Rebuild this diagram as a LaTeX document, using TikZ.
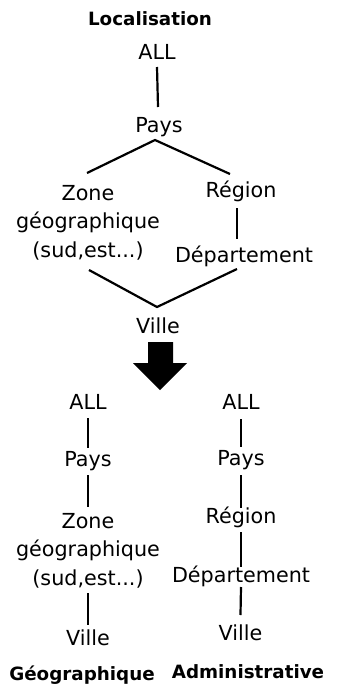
\documentclass[tikz,border=0pt]{standalone}
\usepackage{fontspec}
\setmainfont{DejaVu Sans}
\begin{document}
\begin{tikzpicture}[x=1pt,y=-1pt,
  lbl/.style={inner sep=0pt, anchor=base, align=center,
    font=\fontsize{20.7}{28.5}\selectfont},
  ttl/.style={inner sep=0pt, anchor=base,
    font=\fontsize{18.3}{22}\selectfont\bfseries},
  edge/.style={line width=2.2pt, line cap=butt},
]
\useasboundingbox (0,0) rectangle (340,689);

% ---- combined hierarchy ----
% (multi-line nodes: the base anchor sits on the last line)
\node[ttl] (tloc) at (150,25) {Localisation};
\node[lbl] (tall) at (157,59) {ALL};
\node[lbl] (tpays) at (159,132) {Pays};
\node[lbl] (tzone) at (88,257) {Zone\\géographique\\(sud,est...)};
\node[lbl] (treg) at (241,197) {Région};
\node[lbl] (tdep) at (244,262) {Département};
\node[lbl] (tville) at (158,333) {Ville};

\draw[edge] ([yshift=-8pt]tall.base) -- ([xshift=-1pt,yshift=25pt]tpays.base);
\draw[edge] ([xshift=-1pt,yshift=84pt]tzone.base)
  -- ([xshift=-4pt,yshift=-8pt]tpays.base)
  -- ([xshift=-11pt,yshift=23pt]treg.base);
\draw[edge] ([xshift=-4pt,yshift=-11pt]treg.base) -- ([xshift=-7pt,yshift=23pt]tdep.base);
\draw[edge] ([xshift=1pt,yshift=-13pt]tzone.base)
  -- ([xshift=-1pt,yshift=26pt]tville.base)
  -- ([xshift=-7pt,yshift=-7pt]tdep.base);

% ---- transformation arrow ----
\fill (148,342) -- (173,342) -- (173,363) -- (187,363) -- (160,390)
  -- (133,363) -- (148,363) -- cycle;

% ---- geographic hierarchy ----
\node[lbl] (gall) at (88,409) {ALL};
\node[lbl] (gpays) at (88,466) {Pays};
\node[lbl] (gzone) at (88,585) {Zone\\géographique\\(sud,est...)};
\node[lbl] (gville) at (88,645) {Ville};
\node[ttl] (gtitle) at (82,680) {Géographique};

\draw[edge] ([yshift=-9pt]gall.base) -- ([yshift=18pt]gpays.base);
\draw[edge] ([yshift=-9pt]gpays.base) -- ([yshift=78pt]gzone.base);
\draw[edge] ([yshift=-8pt]gzone.base) -- ([yshift=20pt]gville.base);

% ---- administrative hierarchy ----
\node[lbl] (aall) at (241,409) {ALL};
\node[lbl] (apays) at (241,465) {Pays};
\node[lbl] (areg) at (241,523) {Région};
\node[lbl] (adep) at (241,582) {Département};
\node[lbl] (aville) at (240.5,640) {Ville};
\node[ttl] (atitle) at (248,678) {Administrative};

\draw[edge] ([yshift=-10pt]aall.base) -- ([yshift=18pt]apays.base);
\draw[edge] ([yshift=-10pt]apays.base) -- ([yshift=15pt]areg.base);
\draw[edge] ([yshift=-9pt]areg.base) -- ([yshift=15pt]adep.base);
\draw[edge] ([yshift=-5pt]adep.base) -- ([yshift=25pt]aville.base);
\end{tikzpicture}
\end{document}
